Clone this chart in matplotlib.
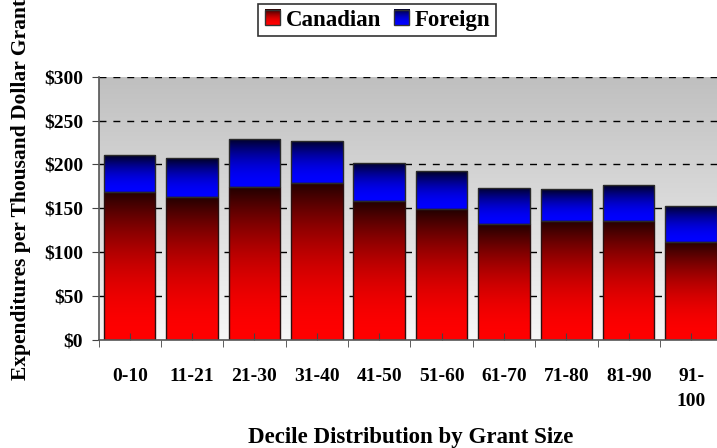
import numpy as np
import matplotlib.pyplot as plt
from matplotlib.patches import Rectangle
from matplotlib.legend_handler import HandlerPatch
from matplotlib.image import BboxImage
from matplotlib.transforms import Bbox, TransformedBbox

# Values (dollars per thousand dollar grant)
deciles = ["0-10", "11-21", "21-30", "31-40", "41-50", "51-60",
           "61-70", "71-80", "81-90", "91-\n100"]
canadian = [169, 163, 174, 179, 158, 149, 132, 136, 136, 112]
foreign = [42, 44, 55, 48, 44, 43, 41, 36, 40, 41]
yticks = [0, 50, 100, 150, 200, 250, 300]

plt.rcParams["font.family"] = ["Liberation Serif", "DejaVu Serif"]
plt.rcParams["font.weight"] = "bold"


def vgrad(c_bottom, c_top, n=256, power=2.0):
    t = (np.linspace(0, 1, n) ** power)[:, None]
    c0 = np.array(c_bottom, float)
    c1 = np.array(c_top, float)
    return (c0 + (c1 - c0) * t).reshape(n, 1, 3)


red_grad = vgrad((1.0, 0.0, 0.0), (0.13, 0.0, 0.0))
blue_grad = vgrad((0.0, 0.0, 1.0), (0.0, 0.0, 0.13))
bg_grad = vgrad((0.97, 0.97, 0.97), (0.75, 0.75, 0.75), power=1.0)

fig = plt.figure(figsize=(7.17, 4.48), dpi=100)
ax = fig.add_axes([0.1374, 0.241, 0.870, 0.588])
ax.set_facecolor("none")

x = np.arange(len(deciles))

# plot area gradient
ax.imshow(bg_grad, extent=[0, 1, 0, 1], transform=ax.transAxes, origin="lower",
          aspect="auto", zorder=0)

for y in yticks[1:]:
    ax.axhline(y, color="black", lw=1, ls=(0, (5, 5)), zorder=0.5)

bars_c = ax.bar(x, canadian, width=0.825, color="none", edgecolor="#2a1010",
                lw=1, zorder=2)
bars_f = ax.bar(x, foreign, bottom=canadian, width=0.825, color="none",
                edgecolor="#2a2a2a", lw=1, zorder=2)

for bars, grad in ((bars_c, red_grad), (bars_f, blue_grad)):
    for b in bars:
        x0, y0 = b.get_x(), b.get_y()
        im = ax.imshow(grad, extent=[x0, x0 + b.get_width(), y0, y0 + b.get_height()],
                       origin="lower", aspect="auto", zorder=1.5)
        im.set_clip_path(b)

ax.set_xlim(-0.5, len(deciles) - 0.5)
ax.set_ylim(0, 300)

ax.set_xticks(x)
ax.set_xticklabels(deciles, fontsize=14, fontweight="bold", linespacing=1.65)
ax.set_xticks(np.arange(len(deciles) + 1) - 0.5, minor=True)
ax.tick_params(axis="x", which="major", direction="in", length=5, pad=20,
               color="#444444")
ax.tick_params(axis="x", which="minor", direction="out", length=5,
               color="#444444")

ax.set_yticks(yticks)
ax.set_yticklabels(["$%d" % v for v in yticks], fontsize=14, fontweight="bold")
ax.tick_params(axis="y", direction="out", length=5, color="#444444", pad=6)

for s in ("top", "right"):
    ax.spines[s].set_visible(False)
for s in ("left", "bottom"):
    ax.spines[s].set_color("#555555")
    ax.spines[s].set_linewidth(1.2)

ax.set_xlabel("Decile Distribution by Grant Size", fontsize=16.5,
              fontweight="bold", labelpad=12)
ax.set_ylabel("Expenditures per Thousand Dollar Grant", fontsize=15.5,
              fontweight="bold")
ax.yaxis.set_label_coords(-0.108, 0.57)


class GradHandler(HandlerPatch):
    def __init__(self, grad):
        super().__init__()
        self.grad = grad

    def create_artists(self, legend, orig_handle, xdescent, ydescent,
                       width, height, fontsize, trans):
        s = height * 0.95
        x0 = -xdescent + (width - s) / 2
        y0 = -ydescent + (height - s) / 2
        rect = Rectangle((x0, y0), s, s, facecolor="none",
                         edgecolor="#333333", lw=1, transform=trans)
        bb = TransformedBbox(Bbox.from_bounds(x0, y0, s, s), trans)
        img = BboxImage(bb, origin="lower")
        img.set_data(self.grad)
        return [img, rect]


h_c = Rectangle((0, 0), 1, 1)
h_f = Rectangle((0, 0), 1, 1)
leg = fig.legend([h_c, h_f], ["Canadian", "Foreign"], ncol=2,
                 loc="center", bbox_to_anchor=(0.526, 0.955),
                 handler_map={h_c: GradHandler(red_grad), h_f: GradHandler(blue_grad)},
                 prop={"size": 16.5, "weight": "bold"}, frameon=True, fancybox=False,
                 handlelength=0.75, handletextpad=0.2, columnspacing=0.5,
                 borderpad=0.25, edgecolor="black")
leg.get_frame().set_linewidth(1.2)

fig.savefig("out.png", dpi=100)
